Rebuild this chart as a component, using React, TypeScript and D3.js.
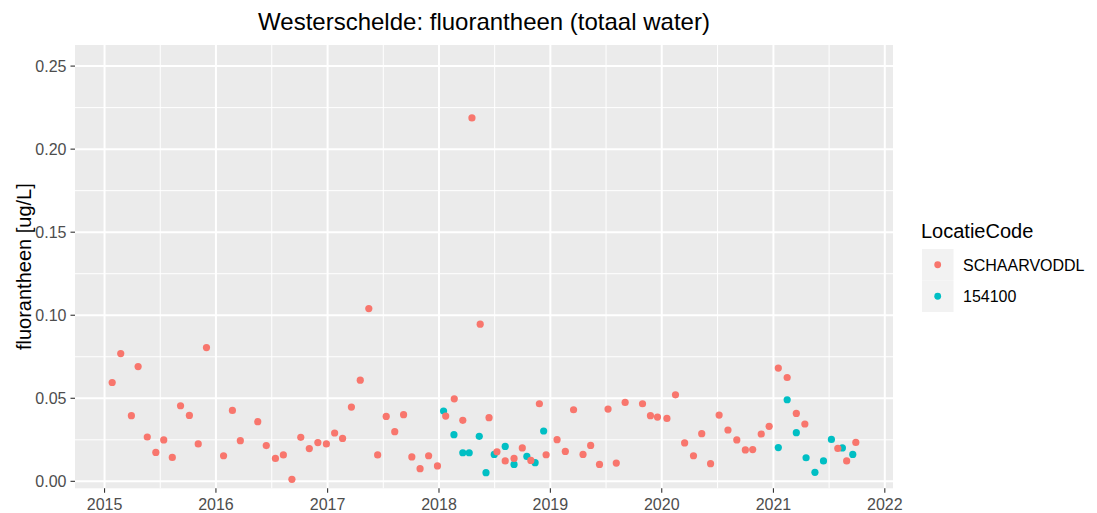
import React from "react";
import * as d3 from "d3";

// SCHAARVODDL series
const datesA = [
  "2015-01-26","2015-02-23","2015-03-30","2015-04-21","2015-05-21","2015-06-18","2015-07-14","2015-08-11",
  "2015-09-07","2015-10-06","2015-11-04","2015-12-01","2016-01-26","2016-02-24","2016-03-21","2016-05-17",
  "2016-06-14","2016-07-14","2016-08-09","2016-09-06","2016-10-05","2016-11-02","2016-11-30","2016-12-28",
  "2017-01-24","2017-02-19","2017-03-20","2017-04-18","2017-05-16","2017-06-14","2017-07-12","2017-08-09",
  "2017-09-07","2017-10-04","2017-10-31","2017-11-28","2017-12-27","2018-01-23","2018-02-20","2018-03-20",
  "2018-04-19","2018-05-16","2018-06-14","2018-07-10","2018-08-06","2018-09-04","2018-10-01","2018-10-29",
  "2018-11-26","2018-12-18","2019-01-23","2019-02-19","2019-03-18","2019-04-18","2019-05-13","2019-06-11",
  "2019-07-09","2019-08-05","2019-09-03","2019-10-30","2019-11-25","2019-12-18","2020-01-18","2020-02-15",
  "2020-03-16","2020-04-14","2020-05-11","2020-06-09","2020-07-07","2020-08-05","2020-09-03","2020-10-01",
  "2020-10-25","2020-11-22","2020-12-18","2021-01-17","2021-02-15","2021-03-17","2021-04-14","2021-07-31",
  "2021-08-29","2021-09-28"
];
const valuesA = [
  0.0595,0.0769,0.0395,0.0691,0.0267,0.0174,0.0249,0.0144,
  0.0455,0.0397,0.0225,0.0805,0.0154,0.0427,0.0245,0.0359,
  0.0215,0.0138,0.0159,0.0012,0.0265,0.0197,0.0233,0.0225,
  0.0291,0.0258,0.0447,0.0609,0.1040,0.0159,0.0391,0.0299,
  0.0401,0.0147,0.0076,0.0154,0.0093,0.0393,0.0497,0.0367,
  0.2188,0.0946,0.0383,0.0178,0.0123,0.0138,0.0201,0.0126,
  0.0467,0.0160,0.0251,0.0180,0.0431,0.0162,0.0216,0.0102,
  0.0435,0.0110,0.0475,0.0467,0.0395,0.0387,0.0379,0.0521,
  0.0231,0.0154,0.0287,0.0106,0.0399,0.0309,0.0249,0.0189,
  0.0191,0.0285,0.0331,0.0682,0.0625,0.0409,0.0345,0.0198,
  0.0123,0.0234
];

// 154100 series
const datesB = [
  "2018-01-16","2018-02-19","2018-03-20","2018-04-10","2018-05-13","2018-06-04","2018-07-01","2018-08-06",
  "2018-09-04","2018-10-16","2018-11-12","2018-12-10","2021-01-17","2021-02-15","2021-03-17","2021-04-18",
  "2021-05-17","2021-06-14","2021-07-10","2021-08-15","2021-09-18"
];
const valuesB = [
  0.0423,0.0281,0.0172,0.0172,0.0271,0.0052,0.0162,0.0210,
  0.0102,0.0150,0.0112,0.0303,0.0203,0.0491,0.0293,0.0142,
  0.0054,0.0123,0.0252,0.0201,0.0162
];

const seriesNames = ["SCHAARVODDL", "154100"];
const seriesColors = ["#F8766D", "#00BFC4"];
const yTicks = [0, 0.05, 0.1, 0.15, 0.2, 0.25];
const yTickLabels = ["0.00", "0.05", "0.10", "0.15", "0.20", "0.25"];
const xTickYears = [2015, 2016, 2017, 2018, 2019, 2020, 2021, 2022];
const yLimits = [-0.0042, 0.2627];

const title = "Westerschelde: fluorantheen (totaal water)";
const yTitle = "fluorantheen [ug/L]";
const legendTitle = "LocatieCode";

export default function App() {
  const W = 1097, H = 513;
  const pL = 75, pR = 893, pT = 45, pB = 488.3;
  const parse = d3.utcParse("%Y-%m-%d");
  const A = datesA.map((d, i) => ({ d: parse(d) as Date, v: valuesA[i] }));
  const B = datesB.map((d, i) => ({ d: parse(d) as Date, v: valuesB[i] }));
  const all = [...A, ...B];
  const ext = d3.extent(all, (p) => +p.d) as [number, number];
  const span = ext[1] - ext[0];
  const x = d3.scaleUtc()
    .domain([new Date(ext[0] - 0.05 * span), new Date(ext[1] + 0.05 * span)])
    .range([pL, pR]);
  const y = d3.scaleLinear().domain(yLimits).range([pB, pT]);

  const xMajor = xTickYears.map((yr) => new Date(Date.UTC(yr, 0, 1)));
  const xMinor: Date[] = [];
  for (let i = 0; i < xMajor.length - 1; i++) {
    xMinor.push(new Date((+xMajor[i] + +xMajor[i + 1]) / 2));
  }
  const yMinor: number[] = [];
  for (let i = 0; i < yTicks.length - 1; i++) yMinor.push((yTicks[i] + yTicks[i + 1]) / 2);

  const font = "'Liberation Sans', Arial, Helvetica, sans-serif";
  const cx = (pL + pR) / 2;
  const cy = (pT + pB) / 2;
  const r = 3.6;

  return (
    <svg width={W} height={H} style={{ position: "absolute", left: 0, top: 0, background: "#fff" }} fontFamily={font}>
      <rect x={0} y={0} width={W} height={H} fill="#fff" />
      <rect x={pL} y={pT} width={pR - pL} height={pB - pT} fill="#EBEBEB" />
      {xMinor.map((d, i) => (
        <line key={"xm" + i} x1={x(d)} x2={x(d)} y1={pT} y2={pB} stroke="#fff" strokeWidth={1} />
      ))}
      {yMinor.map((v, i) => (
        <line key={"ym" + i} x1={pL} x2={pR} y1={y(v)} y2={y(v)} stroke="#fff" strokeWidth={1} />
      ))}
      {xMajor.map((d, i) => (
        <line key={"xM" + i} x1={x(d)} x2={x(d)} y1={pT} y2={pB} stroke="#fff" strokeWidth={2} />
      ))}
      {yTicks.map((v, i) => (
        <line key={"yM" + i} x1={pL} x2={pR} y1={y(v)} y2={y(v)} stroke="#fff" strokeWidth={2} />
      ))}
      {B.map((p, i) => (
        <circle key={"b" + i} cx={x(p.d)} cy={y(p.v)} r={r} fill={seriesColors[1]} />
      ))}
      {A.map((p, i) => (
        <circle key={"a" + i} cx={x(p.d)} cy={y(p.v)} r={r} fill={seriesColors[0]} />
      ))}
      {/* y axis */}
      {yTicks.map((v, i) => (
        <g key={"yt" + i}>
          <line x1={pL - 4.5} x2={pL} y1={y(v)} y2={y(v)} stroke="#333" strokeWidth={1.1} />
          <text x={pL - 8.5} y={y(v)} dy="0.36em" textAnchor="end" fontSize={16} fill="#4D4D4D">
            {yTickLabels[i]}
          </text>
        </g>
      ))}
      {/* x axis */}
      {xMajor.map((d, i) => (
        <g key={"xt" + i}>
          <line x1={x(d)} x2={x(d)} y1={pB} y2={pB + 4.5} stroke="#333" strokeWidth={1.1} />
          <text x={x(d)} y={509.5} textAnchor="middle" fontSize={16} fill="#4D4D4D">
            {xTickYears[i]}
          </text>
        </g>
      ))}
      <text transform={`translate(31,${cy}) rotate(-90)`} textAnchor="middle" fontSize={20} fill="#000">
        {yTitle}
      </text>
      <text x={cx} y={30} textAnchor="middle" fontSize={24} fill="#000">
        {title}
      </text>
      {/* legend */}
      <text x={921} y={238} fontSize={20} fill="#000">{legendTitle}</text>
      {seriesNames.map((n, i) => (
        <g key={"lg" + i}>
          <rect x={922} y={249 + i * 31.5} width={31.5} height={31.5} fill="#F2F2F2" />
          <circle cx={937.7} cy={249 + i * 31.5 + 15.75} r={3.4} fill={seriesColors[i]} />
          <text x={963} y={249 + i * 31.5 + 15.75} dy="0.36em" fontSize={16} fill="#000">{n}</text>
        </g>
      ))}
    </svg>
  );
}
